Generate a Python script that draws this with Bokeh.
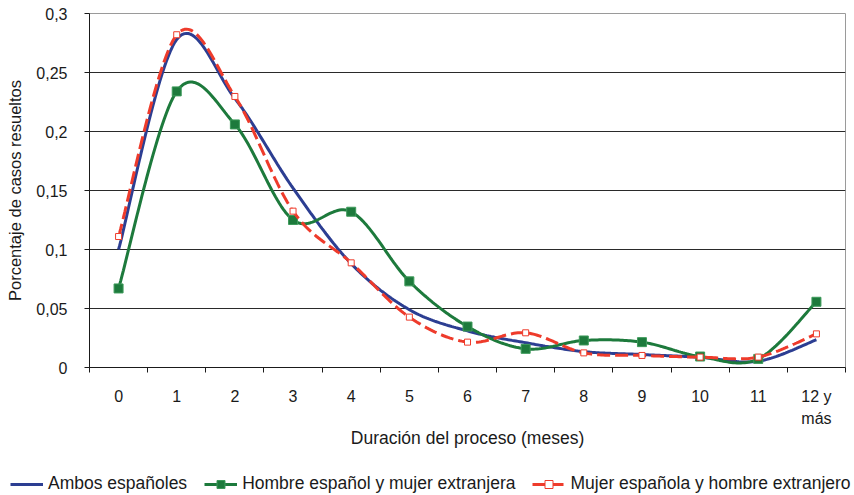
import numpy as np
from bokeh.plotting import figure
from bokeh.models import FixedTicker, Legend, LegendItem, Range1d
from bokeh.embed import file_html
from bokeh.resources import INLINE

# ---- data ----
categorias = ["0", "1", "2", "3", "4", "5", "6", "7", "8", "9", "10", "11", "12 y\nmás"]
ambos_espanoles = [0.100, 0.278, 0.228, 0.152, 0.088, 0.049, 0.031, 0.021, 0.0135, 0.011, 0.0087, 0.0053, 0.0235]
hombre_esp_mujer_ext = [0.067, 0.234, 0.206, 0.125, 0.132, 0.073, 0.0347, 0.0158, 0.0229, 0.0215, 0.0093, 0.0073, 0.0557]
mujer_esp_hombre_ext = [0.111, 0.282, 0.2297, 0.1325, 0.0887, 0.0427, 0.0215, 0.0294, 0.0124, 0.0102, 0.0088, 0.0088, 0.0285]
y_ticks = [0, 0.05, 0.1, 0.15, 0.2, 0.25, 0.3]
y_labels = ["0", "0,05", "0,1", "0,15", "0,2", "0,25", "0,3"]
series_names = ["Ambos españoles", "Hombre español y mujer extranjera", "Mujer española y hombre extranjero"]

BLUE = "#2c3e92"
GREEN = "#1d7a3c"
GREEN_EDGE = "#3d9a5a"
RED = "#ee3b2b"
FONT = "Liberation Sans"
TXT = "#1a1a1a"


def smooth(yv, n=30):
    """Excel-like smoothed line: cubic Bezier segments (Catmull-Rom control points)."""
    y = np.asarray(yv, float)
    x = np.arange(len(y), dtype=float)
    m = len(y)
    xs, ys = [], []
    for i in range(m - 1):
        i0 = max(i - 1, 0)
        i3 = min(i + 2, m - 1)
        p0x, p0y = x[i], y[i]
        p3x, p3y = x[i + 1], y[i + 1]
        c1x = p0x + (x[i + 1] - x[i0]) / 6.0
        c1y = p0y + (y[i + 1] - y[i0]) / 6.0
        c2x = p3x - (x[i3] - x[i]) / 6.0
        c2y = p3y - (y[i3] - y[i]) / 6.0
        t = np.linspace(0, 1, n, endpoint=(i == m - 2))
        a = (1 - t) ** 3
        b = 3 * (1 - t) ** 2 * t
        c = 3 * (1 - t) * t ** 2
        d = t ** 3
        xs.extend(a * p0x + b * c1x + c * c2x + d * p3x)
        ys.extend(a * p0y + b * c1y + c * c2y + d * p3y)
    return xs, ys


idx = list(range(len(categorias)))
# every tick label gets two lines so that all first lines sit at the same height
tick_text = [c if "\n" in c else c + "\n " for c in categorias]

p = figure(frame_width=756, frame_height=354, output_backend="svg", toolbar_location=None,
           x_range=Range1d(-0.5, len(categorias) - 0.5), y_range=Range1d(0, 0.3),
           min_border_left=89, min_border_right=9, min_border_top=13, min_border_bottom=98)

p.background_fill_color = "white"
p.border_fill_color = "white"
p.outline_line_color = "#9a9a9a"
p.outline_line_width = 1

# grid
p.xgrid.grid_line_color = None
p.ygrid.ticker = FixedTicker(ticks=y_ticks)
p.ygrid.grid_line_color = "#2a2a2a"
p.ygrid.grid_line_width = 1

# y axis
ya = p.yaxis[0]
ya.ticker = FixedTicker(ticks=y_ticks)
ya.major_label_overrides = {t: l for t, l in zip(y_ticks, y_labels)}
ya.axis_label = "Porcentaje de casos resueltos"
ya.axis_label_text_font = FONT
ya.axis_label_text_font_size = "16.5px"
ya.axis_label_text_font_style = "normal"
ya.axis_label_text_color = TXT
ya.axis_label_standoff = 9
ya.major_label_text_font = FONT
ya.major_label_text_font_size = "16px"
ya.major_label_text_color = TXT
ya.major_label_standoff = 17
ya.major_tick_out = 5
ya.major_tick_in = 0
ya.minor_tick_out = 0
ya.minor_tick_in = 0
ya.axis_line_color = "#1a1a1a"
ya.major_tick_line_color = "#1a1a1a"

# x axis: labels at category centres, small ticks at category boundaries
xa = p.xaxis[0]
bounds = [i - 0.5 for i in range(len(categorias) + 1)]
xa.ticker = FixedTicker(ticks=idx, minor_ticks=bounds)
xa.major_label_overrides = {i: c for i, c in zip(idx, tick_text)}
xa.axis_label = "Duración del proceso (meses)"
xa.axis_label_text_font = FONT
xa.axis_label_text_font_size = "17.5px"
xa.axis_label_text_font_style = "normal"
xa.axis_label_text_color = TXT
xa.axis_label_standoff = -2
xa.major_label_text_font = FONT
xa.major_label_text_font_size = "16px"
xa.major_label_text_color = TXT
xa.major_label_text_line_height = 1.35
xa.major_label_standoff = 15
xa.major_tick_out = 0
xa.major_tick_in = 0
xa.minor_tick_out = 5
xa.minor_tick_in = 0
xa.axis_line_color = "#1a1a1a"
xa.minor_tick_line_color = "#1a1a1a"

# series
bx, by = smooth(ambos_espanoles)
gx, gy = smooth(hombre_esp_mujer_ext)
rx, ry = smooth(mujer_esp_hombre_ext)

p.line(bx, by, line_color=BLUE, line_width=3)
p.line(gx, gy, line_color=GREEN, line_width=3)
p.scatter(idx, hombre_esp_mujer_ext, marker="square", size=9,
          fill_color=GREEN, line_color=GREEN_EDGE, line_width=1)
p.line(rx, ry, line_color=RED, line_width=3, line_dash="13 5")
p.scatter(idx, mujer_esp_hombre_ext, marker="square", size=6,
          fill_color="white", line_color=RED, line_width=1)

# ---- legend strip: a separate root placed under the chart ----
# its ranges lie far away from the data, so only the legend itself is visible
lg = figure(width=854, height=30, output_backend="svg", toolbar_location=None,
            x_range=Range1d(100, 101), y_range=Range1d(100, 101),
            x_axis_type=None, y_axis_type=None,
            min_border_left=0, min_border_right=0, min_border_top=0, min_border_bottom=0)
lg.outline_line_color = None
lg.xgrid.grid_line_color = None
lg.ygrid.grid_line_color = None
lg_blue = lg.line(idx, ambos_espanoles, line_color=BLUE, line_width=3)
lg_green = lg.line(idx, hombre_esp_mujer_ext, line_color=GREEN, line_width=3)
lg_green_m = lg.scatter(idx, hombre_esp_mujer_ext, marker="square", size=8,
                        fill_color=GREEN, line_color=GREEN_EDGE, line_width=1)
lg_red = lg.line(idx, mujer_esp_hombre_ext, line_color=RED, line_width=3, line_dash="13 5")
lg_red_m = lg.scatter(idx, mujer_esp_hombre_ext, marker="square", size=6,
                      fill_color="white", line_color=RED, line_width=1)

legend = Legend(items=[
    LegendItem(label=series_names[0], renderers=[lg_blue]),
    LegendItem(label=series_names[1], renderers=[lg_green, lg_green_m]),
    LegendItem(label=series_names[2], renderers=[lg_red, lg_red_m]),
], orientation="horizontal", location=(10, 1))
legend.label_text_font = FONT
legend.label_text_font_size = "17.5px"
legend.label_text_color = TXT
legend.glyph_width = 33
legend.label_standoff = 5
legend.spacing = 17
legend.padding = 0
legend.margin = 0
legend.border_line_color = None
legend.background_fill_alpha = 0
legend.label_height = 20
legend.glyph_height = 20
lg.add_layout(legend, "center")

open("out.html", "w").write(file_html([p, lg], INLINE))
